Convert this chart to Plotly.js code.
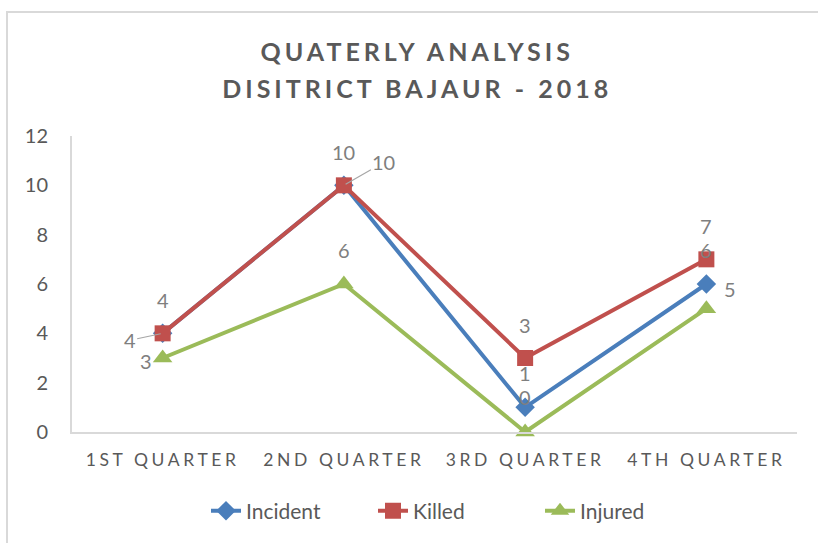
<!DOCTYPE html>
<html>
<head>
<meta charset="utf-8">
<script src="https://cdn.plot.ly/plotly-3.0.1.min.js"></script>
<style>
  html, body { margin: 0; padding: 0; background: #fff; }
  #wrap { position: relative; width: 818px; height: 543px; overflow: hidden; }
  #chart { width: 818px; height: 543px; }
  #frame { position: absolute; left: 6px; top: 11px; width: 830px; height: 560px;
           border-top: 2px solid #d9d9d9; border-left: 2px solid #d9d9d9; pointer-events: none; }
  .gtitle { letter-spacing: 4px; }
  .xtick text { letter-spacing: 3.6px; }
</style>
</head>
<body>
<div id="wrap"><div id="chart"></div><div id="frame"></div></div>
<script>
// ---- data ----
const categories = ["1ST QUARTER", "2ND QUARTER", "3RD QUARTER", "4TH QUARTER"];
const incident = [4, 10, 1, 6];
const killed   = [4, 10, 3, 7];
const injured  = [3, 6, 0, 5];
const yTicks   = [0, 2, 4, 6, 8, 10, 12];

// ---- label placement (pixel offsets from each point) ----
const labelOffsets = {
  Incident: [[-33, 7, true], [0, -33, false], [0, -34, false], [0, -34, false]],
  Killed:   [[0, -33, false], [40, -23, true], [0, -33, false], [0, -33, false]],
  Injured:  [[-17, 3, false], [0, -34, false], [0, -35, false], [24, -20, false]]
};

const series = [
  {name: "Incident", values: incident, color: "#4a7ebb", symbol: "diamond", size: 15},
  {name: "Killed",   values: killed,   color: "#c0504d", symbol: "square",  size: 16},
  {name: "Injured",  values: injured,  color: "#9bbb59", symbol: "triangle-up", size: 17}
];

const FONT = "Lato, 'Liberation Sans', sans-serif";
const traces = series.map(s => ({
  type: "scatter", mode: "lines+markers", name: s.name,
  x: categories, y: s.values,
  line: {color: s.color, width: 4},
  marker: {symbol: s.symbol, size: s.size, color: s.color},
  cliponaxis: false
}));

const annotations = [];
series.forEach(s => {
  s.values.forEach((v, i) => {
    const [ax, ay, leader] = labelOffsets[s.name][i];
    annotations.push({
      xref: "x", yref: "y", x: categories[i], y: v,
      text: String(v), showarrow: true, arrowhead: 0, arrowwidth: 1.2,
      arrowcolor: leader ? "#a6a6a6" : "rgba(0,0,0,0)",
      ax: ax, ay: ay, standoff: 2,
      font: {family: FONT, size: 20, color: "#7f7f7f"}
    });
  });
});

const layout = {
  width: 818, height: 543,
  margin: {l: 72, r: 21, t: 136, b: 111},
  paper_bgcolor: "#ffffff", plot_bgcolor: "#ffffff",
  title: {
    text: "<b>QUATERLY ANALYSIS<br>DISITRICT BAJAUR - 2018</b>",
    font: {family: FONT, size: 25, color: "#595959"},
    x: 0.51, xref: "container", xanchor: "center",
    y: 1 - 61 / 543, yref: "container", yanchor: "middle"
  },
  xaxis: {
    type: "category", range: [-0.5, 3.5],
    showgrid: false, zeroline: false, showline: true, linecolor: "#d9d9d9", linewidth: 2,
    ticks: "", tickfont: {family: FONT, size: 17.5, color: "#595959"}, ticklabelstandoff: 11
  },
  yaxis: {
    range: [0, 12], tickvals: yTicks, ticktext: yTicks.map(String),
    showgrid: false, zeroline: false, showline: true, linecolor: "#d9d9d9", linewidth: 2,
    ticks: "", tickfont: {family: FONT, size: 20, color: "#595959"}, ticklabelstandoff: 18
  },
  legend: {
    orientation: "h", xref: "container", yref: "container",
    x: 206 / 818, xanchor: "left", y: 1 - 511 / 543, yanchor: "middle",
    font: {family: FONT, size: 21, color: "#595959"},
    entrywidth: 122, entrywidthmode: "pixels",
    itemclick: false, traceorder: "normal"
  },
  annotations: annotations,
  showlegend: true
};

Plotly.newPlot("chart", traces, layout, {staticPlot: true}).then(gd => {
  // widen the gap between the two title lines
  const lines = gd.querySelectorAll(".gtitle tspan.line");
  if (lines.length > 1) {
    lines[1].setAttribute("dy", "37px");
  }
});
</script>
</body>
</html>
